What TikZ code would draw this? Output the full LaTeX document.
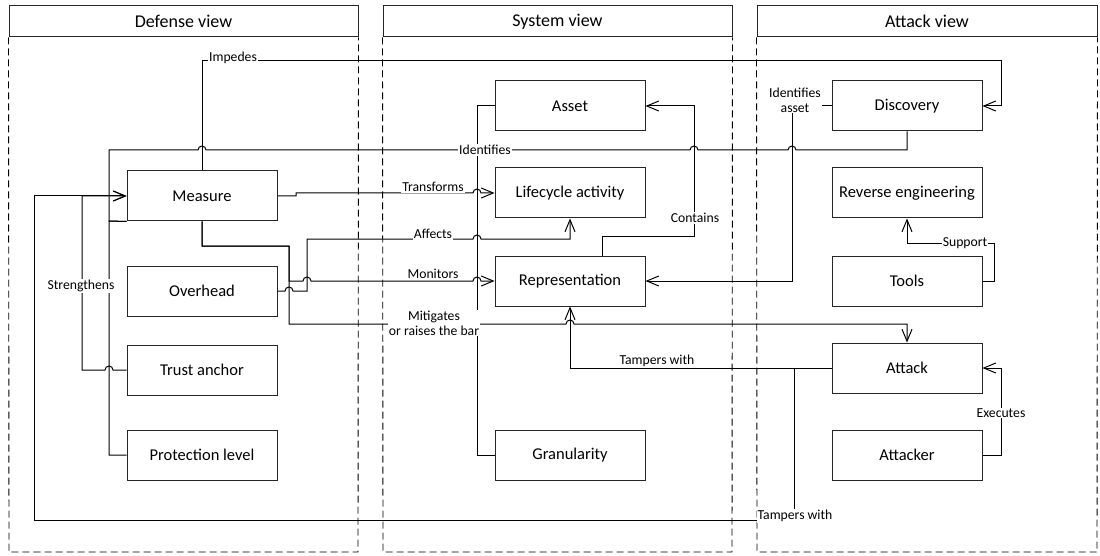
\documentclass[tikz,border=0pt]{standalone}
\usepackage{fontspec}
\setmainfont{Carlito}
\usetikzlibrary{arrows.meta}

\begin{document}
\begin{tikzpicture}[x=1pt, y=-1pt,
  box/.style={draw=black!85, line width=1pt, minimum width=150pt, minimum height=50pt, inner sep=0pt, font=\fontsize{16.5}{18}\selectfont},
  viewhead/.style={draw=black!85, line width=1pt, minimum height=31pt, inner sep=0pt, font=\fontsize{18}{20}\selectfont},
  lane/.style={black, line width=0.9pt, dash pattern=on 7pt off 4pt},
  link/.style={black, line width=1pt},
  arr/.style={link, -{Straight Barb[length=12pt,width=10pt,line width=1pt]}},
  lbl/.style={fill=white, inner sep=1pt, font=\fontsize{13.7}{15}\selectfont, align=center}]

\useasboundingbox (0,0) rectangle (1100,556);

% lanes
{
\node[viewhead, minimum width=349pt] (defview) at (183.5,21.5) {Defense view};
\node[viewhead, minimum width=349pt] (sysview) at (557.5,21.5) {System view};
\node[viewhead, minimum width=340pt] (attview) at (927,21.5) {Attack view};

\draw[lane] (defview.south west)--(9,552)--(358,552)--(defview.south east);
\draw[lane] (sysview.south west)--(383,552)--(732,552)--(sysview.south east);
\draw[lane] (attview.south west)--(757,552)--(1097,552)--(attview.south east);
}

% boxes
{
\node[box] (measure) at (202,196) {Measure};
\node[box] (overhead) at (202,291) {Overhead};
\node[box] (trustanchor) at (202,370) {Trust anchor};
\node[box] (protlevel) at (202,455) {Protection level};

\node[box] (asset) at (570,106) {Asset};
\node[box] (lifecycle) at (570,193) {Lifecycle activity};
\node[box] (repr) at (570,281) {Representation};
\node[box] (granularity) at (570,455) {Granularity};

\node[box] (discovery) at (907,106) {Discovery};
\node[box] (reveng) at (907,193) {Reverse engineering};
\node[box] (tools) at (907,281) {Tools};
\node[box] (attack) at (907,368) {Attack};
\node[box] (attacker) at (907,455) {Attacker};
}

% links
{
\draw[arr] (measure.north)--(202,61)--(1001,61)|-(discovery.east);

\draw[link] (discovery.south)--(907,150)--(796,150) arc[start angle=0,end angle=180,radius=4pt]
  --(698,150) arc[start angle=0,end angle=180,radius=4pt]
  --(206,150) arc[start angle=0,end angle=180,radius=4pt]
  --(109,150)--(109,221)--(measure.south west);

\draw[link] (measure.south west)--(109,221)--(109,455)--(protlevel.west);

\draw[arr] (trustanchor.west)--(113,370) arc[start angle=0,end angle=180,radius=4pt]
  --(82,370)--(82,196)--(measure.west);

\draw[arr] (attack.west)--(794,368)--(794,520)--(34,520)--(34,196)--(measure.west);
\draw[arr] (attack.west)--(570,368)--(repr.south);

\draw[arr] (measure.east)--(296,196)--(296,193)--(473,193) arc[start angle=180,end angle=0,radius=4pt]--(lifecycle.west);

\draw[arr] (overhead.east)--(285,291) arc[start angle=180,end angle=0,radius=4pt]
  --(307,291)--(307,239)--(473,239) arc[start angle=180,end angle=0,radius=4pt]
  --(570,239)--(lifecycle.south);

\draw[arr] (measure.south)--(202,246)--(289,246)--(289,281)--(303,281) arc[start angle=180,end angle=0,radius=4pt]
  --(473,281) arc[start angle=180,end angle=0,radius=4pt]--(repr.west);

\draw[arr] (measure.south)--(202,246)--(289,246)--(289,324)--(566,324) arc[start angle=180,end angle=0,radius=4pt]
  --(907,324)--(attack.north);

\draw[link] (asset.west)--(477,106)--(477,455)--(granularity.west);

\draw[arr] ([xshift=32pt]repr.north)--(602,236)--(694,236)--(694,106)--(asset.east);

\draw[arr] (discovery.west)--(792,106)--(792,281)--(repr.east);

\draw[arr] (tools.east)--(994,281)--(994,243)--(907,243)--(reveng.south);

\draw[arr] (attacker.east)--(1001,455)--(1001,368)--(attack.east);
}

% link labels
{
\node[lbl] (l-impedes) at (233,58) {Impedes};
\node[lbl] (l-identifies) at (485,150) {Identifies};
\node[lbl] (l-strengthens) at (81,286) {Strengthens};
\node[lbl] (l-tampers) at (795,516) {Tampers with};
\node[lbl, fill=none, above] (l-tampers2) at (657,368) {Tampers with};
\node[lbl] (l-transforms) at (433,187) {Transforms};
\node[lbl] (l-affects) at (433,234) {Affects};
\node[lbl] (l-monitors) at (433,274) {Monitors};
\node[lbl] (l-mitigates) at (434,323) {Mitigates\\or raises the bar};
\node[lbl] (l-contains) at (695,218) {Contains};
\node[lbl] (l-idasset) at (795,100) {Identifies\\asset};
\node[lbl] (l-support) at (965,243) {Support};
\node[lbl] (l-executes) at (1001,413) {Executes};
}

\end{tikzpicture}
\end{document}
